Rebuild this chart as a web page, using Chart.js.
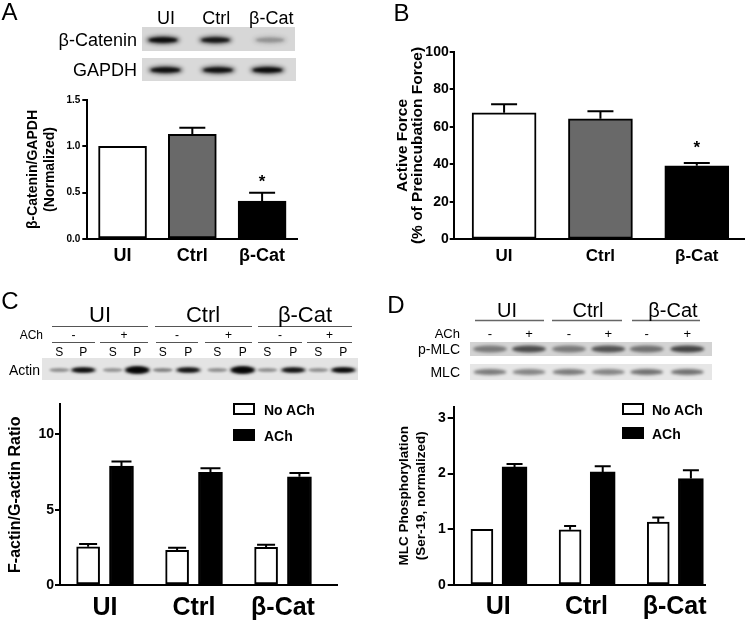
<!DOCTYPE html>
<html><head><meta charset="utf-8">
<script src="https://cdn.jsdelivr.net/npm/chart.js@4.4.1/dist/chart.umd.min.js"></script>
<style>
html,body{margin:0;padding:0;background:#fff;}
#page{position:relative;width:745px;height:626px;overflow:hidden;font-family:"Liberation Sans",Arial,sans-serif;color:#000;}
canvas{position:absolute;}
.t{position:absolute;white-space:nowrap;line-height:1;}
.box{position:absolute;box-sizing:border-box;border:2px solid #000;}
</style></head><body><div id="page">
<canvas id="blots" width="745" height="626" style="left:0;top:0"></canvas>
<canvas id="cA" width="310" height="190" style="left:0;top:90px"></canvas>
<canvas id="cB" width="373" height="240" style="left:372px;top:40px"></canvas>
<canvas id="cC" width="345" height="231" style="left:0;top:395px"></canvas>
<canvas id="cD" width="373" height="231" style="left:372px;top:395px"></canvas>
</div>
<script>
// ---------- DATA ----------
const categories = ['UI', 'Ctrl', 'β-Cat'];
const seriesLabels = ['No ACh', 'ACh'];

// Panel A: beta-catenin / GAPDH (normalized)
const aTicks = [0, 0.5, 1.0, 1.5];
const aValues = [1.00, 1.13, 0.41];
const aErrors = [0, 0.07, 0.09];
const aSig = ['', '', '*'];

// Panel B: active force (% of preincubation force)
const bTicks = [0, 20, 40, 60, 80, 100];
const bValues = [67.4, 64.2, 39.2];
const bErrors = [4.6, 4.1, 1.5];
const bSig = ['', '', '*'];

// Panel C: F-actin / G-actin ratio
const cTicks = [0, 5, 10];
const cNoACh = [2.54, 2.30, 2.50];
const cNoAChErr = [0.18, 0.18, 0.17];
const cACh = [7.90, 7.48, 7.19];
const cAChErr = [0.30, 0.28, 0.26];

// Panel D: MLC phosphorylation (Ser-19, normalized)
const dTicks = [0, 1, 2, 3];
const dNoACh = [1.00, 0.99, 1.13];
const dNoAChErr = [0, 0.07, 0.08];
const dACh = [2.12, 2.03, 1.91];
const dAChErr = [0.05, 0.10, 0.15];

// Blot band intensities (relative darkness)
const blotA_catenin = [0.95, 0.85, 0.22];
const blotA_gapdh = [0.92, 0.9, 0.95];
const blotC_actin = [0.3, 0.9, 0.28, 1.0, 0.35, 0.85, 0.3, 1.0, 0.3, 0.85, 0.3, 0.95];
const blotD_pmlc = [0.5, 0.75, 0.5, 0.72, 0.55, 0.8];
const blotD_mlc = [0.55, 0.5, 0.55, 0.5, 0.6, 0.6];

// ---------- TEXT HELPERS ----------
const page = document.getElementById('page');
function txt(s, x, y, size, anchor, weight) {
  const d = document.createElement('div');
  d.className = 't';
  d.textContent = s;
  d.style.fontSize = size + 'px';
  d.style.fontWeight = weight || 'normal';
  d.style.top = y + 'px';
  let tx = '-50%';
  if (anchor === 'r') { d.style.right = (745 - x) + 'px'; tx = '0'; }
  else if (anchor === 'l') { d.style.left = x + 'px'; tx = '0'; }
  else { d.style.left = x + 'px'; }
  d.style.transform = 'translate(' + tx + ',-50%)';
  page.appendChild(d);
  return d;
}
function box(x, y, w, h, fill) {
  const d = document.createElement('div');
  d.className = 'box';
  Object.assign(d.style, {left: x + 'px', top: y + 'px', width: w + 'px', height: h + 'px', background: fill});
  page.appendChild(d);
}

// Panel letters
txt('A', 9.5, 12, 24, 'c');
txt('B', 401.5, 12.5, 24, 'c');
txt('C', 10, 301, 24, 'c');
txt('D', 396, 305, 24, 'c');

// Blot A labels
[166, 216.3, 271.3].forEach((x, i) => txt(categories[i], x, 17.5, 18, 'c'));
txt('β-Catenin', 137, 39.5, 18, 'r');
txt('GAPDH', 137, 70, 18, 'r');

// Blot C labels
[100, 203, 305].forEach((x, i) => txt(categories[i], x, 315, 22, 'c'));
txt('ACh', 43, 335, 12, 'r');
const cSeg = [[52, 95], [100, 148], [156, 198], [205, 252], [258, 302], [307, 352]];
cSeg.forEach((s, i) => txt(i % 2 ? '+' : '-', (s[0] + s[1]) / 2, 335, 12, 'c'));
const cLanes = [59.3, 83.3, 112.7, 137.3, 162.7, 188.3, 217.3, 242.7, 267.3, 293.3, 318.3, 343.3];
cLanes.forEach((x, i) => txt(i % 2 ? 'P' : 'S', x, 352, 12, 'c'));
txt('Actin', 40, 370, 14, 'r');

// Blot D labels
[507, 588, 673].forEach((x, i) => txt(categories[i], x, 310, 20, 'c'));
txt('ACh', 460, 332.5, 13, 'r');
const dLanes = [490, 529, 569, 608.3, 646.7, 687.3];
dLanes.forEach((x, i) => txt(i % 2 ? '+' : '-', x, 332.5, 13, 'c'));
txt('p-MLC', 460, 349, 14, 'r');
txt('MLC', 460, 372, 14, 'r');

// Legends C & D
box(233, 403, 22, 12, '#fff'); txt(seriesLabels[0], 264, 409.5, 14, 'l', 'bold');
box(233, 429, 22, 12, '#000'); txt(seriesLabels[1], 264, 435.5, 14, 'l', 'bold');
box(622, 403, 22, 12, '#fff'); txt(seriesLabels[0], 652, 409.5, 14, 'l', 'bold');
box(622, 427, 22, 12, '#000'); txt(seriesLabels[1], 652, 433.5, 14, 'l', 'bold');

// ---------- BLOT DRAWING ----------
const bc = document.getElementById('blots').getContext('2d');
function band(cx, cy, w, h, a, blur) {
  bc.save();
  bc.filter = 'blur(' + blur + 'px)';
  bc.fillStyle = 'rgba(0,0,0,' + a + ')';
  bc.beginPath();
  bc.ellipse(cx, cy, w / 2, h / 2, 0, 0, Math.PI * 2);
  bc.fill();
  bc.restore();
}
function rect(x, y, w, h, c) { bc.fillStyle = c; bc.fillRect(x, y, w, h); }
function hline(x1, x2, y, c, lw) { bc.strokeStyle = c; bc.lineWidth = lw; bc.beginPath(); bc.moveTo(x1, y); bc.lineTo(x2, y); bc.stroke(); }

// A
rect(142, 27, 153, 24, '#d7d7d7');
rect(142, 58, 154, 23, '#d9d9d9');
[163, 215.5, 270].forEach((x, i) => {
  const a = blotA_catenin[i];
  band(x, 40, 34, 8, a * 0.7, 2);
  band(x, 40, 28, 5, a * 0.9, 1);
});
[165.5, 218, 267.5].forEach((x, i) => {
  const a = blotA_gapdh[i];
  band(x, 70, 35, 8, a * 0.7, 2);
  band(x, 70, 29, 5, a * 0.9, 1);
});

// C
rect(42, 358, 316, 22, '#e4e4e4');
hline(52, 148, 326.5, '#555', 1);
hline(155, 252, 326.5, '#555', 1);
hline(258, 352, 326.5, '#555', 1);
cSeg.forEach(s => hline(s[0], s[1], 342.5, '#555', 1));
cLanes.forEach((x, i) => {
  const a = blotC_actin[i];
  if (i % 2 === 0) { band(x, 370, 20, 4, a * 1.2, 1.2); }
  else { const h = a > 0.95 ? 8 : 6; band(x, 370, 26, h, a * 0.75, 1.8); band(x, 370, 21, h - 2, a * 0.9, 0.8); }
});

// D
rect(470, 342, 242, 14, '#d3d3d3');
rect(470, 364, 242, 16, '#e6e6e6');
hline(475, 544, 320.5, '#666', 1.5);
hline(552, 622, 320.5, '#666', 1.5);
hline(632, 700, 320.5, '#666', 1.5);
dLanes.forEach((x, i) => {
  band(x, 349, 34, 7, blotD_pmlc[i] * 0.85, 1.5);
  band(x, 372, 33, 6, blotD_mlc[i] * 0.85, 1.5);
});

// ---------- CHARTS ----------
Chart.defaults.font.family = '"Liberation Sans", Arial, sans-serif';
Chart.defaults.color = '#000';

const errorBars = {
  id: 'errorBars',
  afterDatasetsDraw(chart, args, opts) {
    const ctx = chart.ctx, ys = chart.scales.y;
    chart.data.datasets.forEach((ds, di) => {
      if (!ds.errors) return;
      const meta = chart.getDatasetMeta(di);
      meta.data.forEach((bar, i) => {
        const v = ds.data[i].y, e = ds.errors[i];
        const top = ys.getPixelForValue(v + e);
        ctx.save();
        ctx.strokeStyle = '#000';
        ctx.lineWidth = 2;
        if (e > 0) {
          ctx.beginPath();
          ctx.moveTo(bar.x, bar.y);
          ctx.lineTo(bar.x, top);
          ctx.moveTo(bar.x - ds.capWidth / 2, top);
          ctx.lineTo(bar.x + ds.capWidth / 2, top);
          ctx.stroke();
        }
        if (ds.sig && ds.sig[i]) {
          ctx.fillStyle = '#000';
          ctx.font = 'bold 17px "Liberation Sans", Arial, sans-serif';
          ctx.textAlign = 'center';
          ctx.textBaseline = 'alphabetic';
          ctx.fillText(ds.sig[i], bar.x, top - ds.sigGap + 10);
        }
        ctx.restore();
      });
    });
  }
};

function makeChart(id, p) {
  const datasets = p.series.map(s => ({
    label: s.label,
    data: s.values.map((v, i) => ({x: i + s.offset, y: v})),
    backgroundColor: s.colors,
    borderColor: '#000',
    borderWidth: 2,
    borderSkipped: false,
    barThickness: s.thickness,
    grouped: false,
    errors: s.errors,
    capWidth: s.cap,
    sig: s.sig,
    sigGap: p.sigGap
  }));
  return new Chart(document.getElementById(id), {
    type: 'bar',
    data: {datasets},
    options: {
      responsive: false, animation: false, devicePixelRatio: 1,
      layout: {padding: {top: p.padTop, right: p.padRight, left: 0, bottom: 0}},
      plugins: {legend: {display: false}, tooltip: {enabled: false}},
      scales: {
        x: {
          type: 'linear', min: p.xMin, max: p.xMax, offset: false, bounds: 'data',
          afterBuildTicks: s => { s.ticks = categories.map((c, i) => ({value: i})); },
          afterFit: s => { s.height = p.xHeight; },
          grid: {display: false, drawTicks: false, offset: false},
          border: {display: true, color: '#000', width: 2},
          ticks: {callback: v => categories[v], font: {size: p.xFont, weight: 'bold'}, padding: p.xPad, maxRotation: 0, autoSkip: false}
        },
        y: {
          min: 0, max: p.yMax, bounds: 'data',
          afterBuildTicks: s => { s.ticks = p.yTicks.map(v => ({value: v})); },
          afterFit: s => { s.width = p.yWidth; },
          grid: {display: true, drawOnChartArea: false, drawTicks: true, tickLength: p.tickLen, color: '#000', lineWidth: 2},
          border: {display: true, color: '#000', width: 2},
          ticks: {callback: p.yFmt, font: {size: p.yFont, weight: 'bold'}, padding: p.yPad},
          title: {display: true, text: p.yTitle, font: {size: p.titleFont, weight: 'bold', lineHeight: p.titleLH}, padding: {top: p.titlePad, bottom: 0}}
        }
      }
    },
    plugins: [errorBars]
  });
}

makeChart('cA', {
  series: [{label: 'A', values: aValues, errors: aErrors, sig: aSig, offset: 0, thickness: 48, cap: 26, colors: ['#ffffff', '#696969', '#000000']}],
  xMin: -0.505, xMax: 2.5, yMax: 1.5, yTicks: aTicks, yFmt: v => v.toFixed(1),
  padTop: 10, padRight: 13, yWidth: 87.3, xHeight: 41,
  xFont: 18, xPad: 6, yFont: 10, yPad: 2, tickLen: 5,
  yTitle: ['β-Catenin/GAPDH', '(Normalized)'], titleFont: 14, titleLH: 1.21, titlePad: 24.5,
  sigGap: 15.5
});

makeChart('cB', {
  series: [{label: 'B', values: bValues, errors: bErrors, sig: bSig, offset: 0, thickness: 64, cap: 26, colors: ['#ffffff', '#696969', '#000000']}],
  xMin: -0.523, xMax: 2.49, yMax: 100, yTicks: bTicks, yFmt: v => String(v),
  padTop: 11.7, padRight: 1, yWidth: 81.7, xHeight: 40.7,
  xFont: 17, xPad: 7, yFont: 14, yPad: 1, tickLen: 4,
  yTitle: ['Active Force', '(% of Preincubation Force)'], titleFont: 15.5, titleLH: 0.97, titlePad: 23.2,
  sigGap: 20
});

makeChart('cC', {
  series: [
    {label: seriesLabels[0], values: cNoACh, errors: cNoAChErr, offset: -0.19, thickness: 23, cap: 18, colors: '#ffffff'},
    {label: seriesLabels[1], values: cACh, errors: cAChErr, offset: 0.185, thickness: 24, cap: 20, colors: '#000000'}
  ],
  xMin: -0.506, xMax: 2.607, yMax: 12, yTicks: cTicks, yFmt: v => String(v),
  padTop: 9, padRight: 8, yWidth: 60, xHeight: 41,
  xFont: 25, xPad: 8, yFont: 14, yPad: 1, tickLen: 5,
  yTitle: 'F-actin/G-actin Ratio', titleFont: 16, titleLH: 1.2, titlePad: 6.4,
  sigGap: 0
});

makeChart('cD', {
  series: [
    {label: seriesLabels[0], values: dNoACh, errors: dNoAChErr, offset: -0.185, thickness: 22, cap: 12, colors: '#ffffff'},
    {label: seriesLabels[1], values: dACh, errors: dAChErr, offset: 0.185, thickness: 25, cap: 16, colors: '#000000'}
  ],
  xMin: -0.505, xMax: 2.345, yMax: 3.2, yTicks: dTicks, yFmt: v => String(v),
  padTop: 11.7, padRight: 40, yWidth: 81.7, xHeight: 41,
  xFont: 25, xPad: 7, yFont: 14, yPad: 2, tickLen: 6,
  yTitle: ['MLC Phosphorylation', '(Ser-19, normalized)'], titleFont: 13.5, titleLH: 1.31, titlePad: 23.2,
  sigGap: 0
});
</script>
</body></html>
